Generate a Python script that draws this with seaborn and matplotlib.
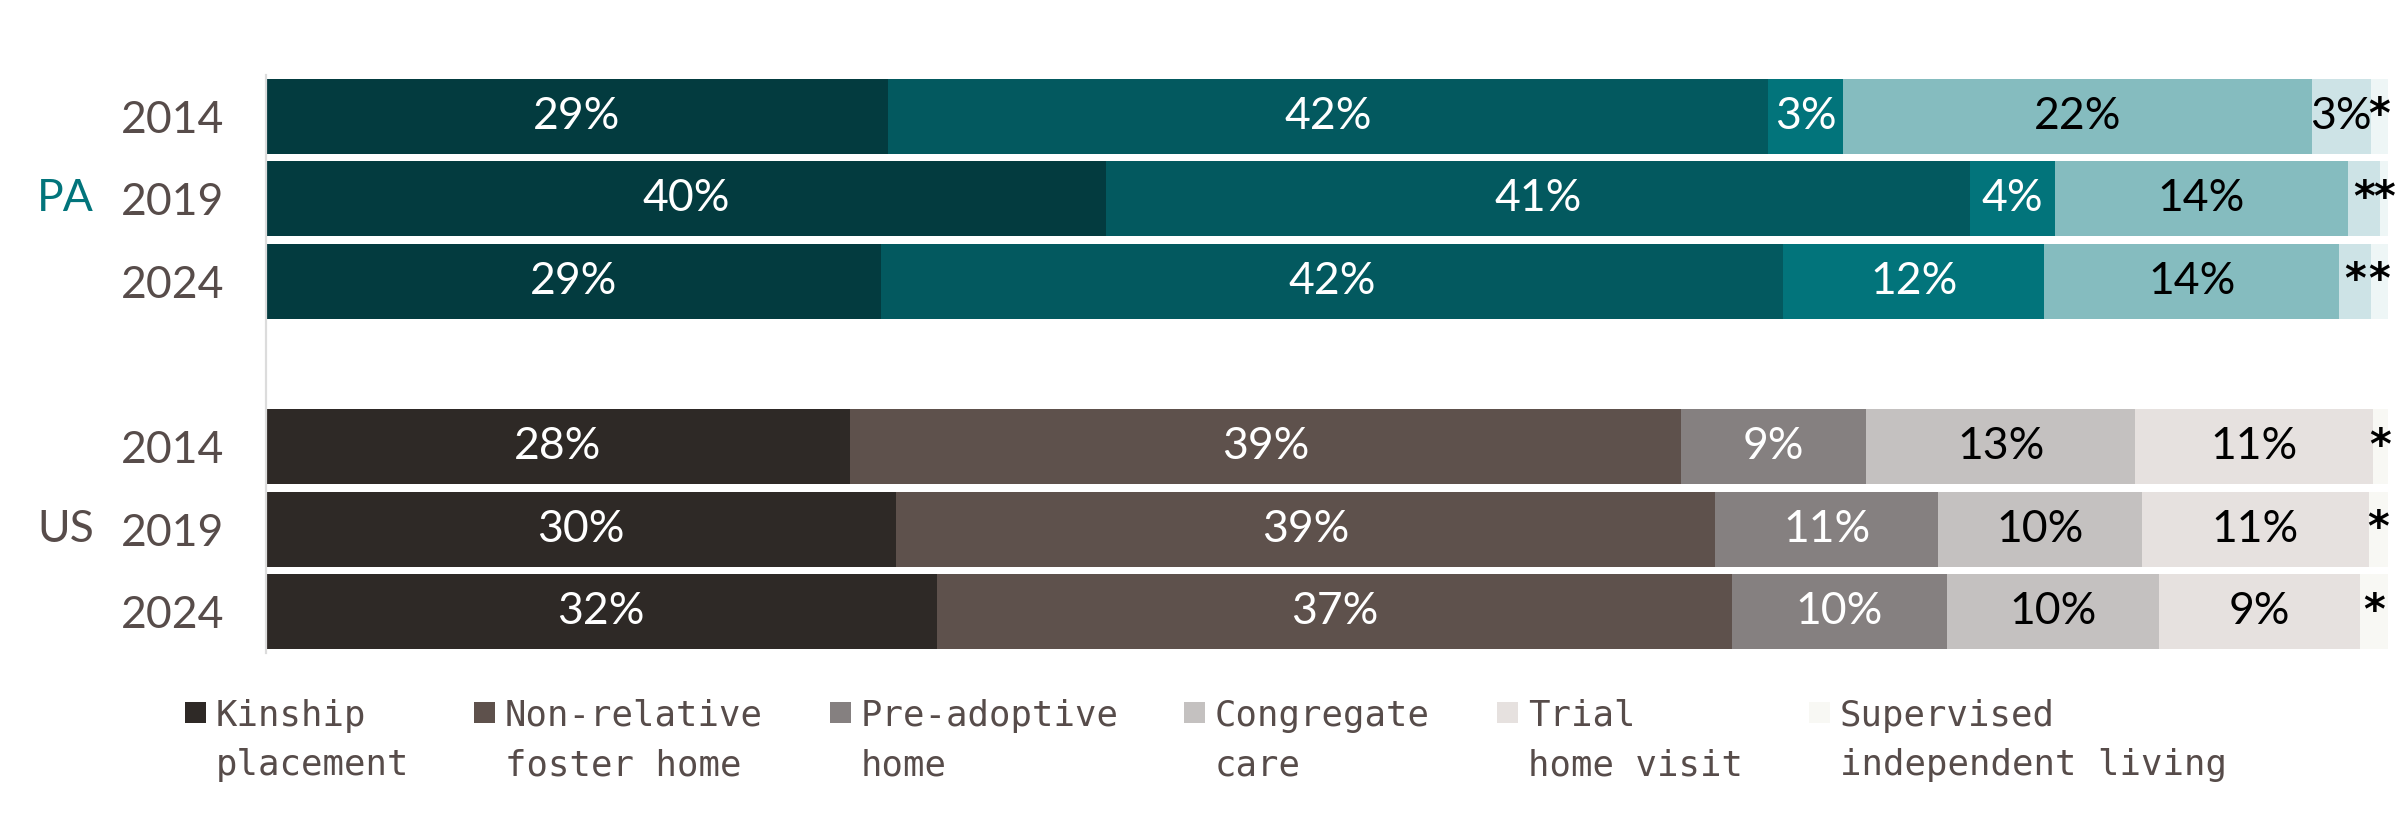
import matplotlib

matplotlib.use("Agg")
import matplotlib.pyplot as plt
import numpy as np
import pandas as pd
import seaborn as sns
from matplotlib.patches import Rectangle
from matplotlib.transforms import blended_transform_factory

# ---- data (percent of children in care) ----
CATEGORIES = [
    "Kinship\nplacement",
    "Non-relative\nfoster home",
    "Pre-adoptive\nhome",
    "Congregate\ncare",
    "Trial\nhome visit",
    "Supervised\nindependent living",
]
REGIONS = ["PA", "US"]
YEARS = ["2014", "2019", "2024"]

PA_2014 = [29.3, 41.5, 3.5, 22.1, 2.8, 0.8]
PA_2019 = [39.6, 40.7, 4.0, 13.8, 1.5, 0.4]
PA_2024 = [29.0, 42.5, 12.3, 13.9, 1.5, 0.8]
US_2014 = [27.5, 39.2, 8.7, 12.7, 11.2, 0.7]
US_2019 = [29.7, 38.6, 10.5, 9.6, 10.7, 0.9]
US_2024 = [31.6, 37.5, 10.1, 10.0, 9.5, 1.3]

PA_2014_LABELS = ["29%", "42%", "3%", "22%", "3%", "*"]
PA_2019_LABELS = ["40%", "41%", "4%", "14%", "*", "*"]
PA_2024_LABELS = ["29%", "42%", "12%", "14%", "*", "*"]
US_2014_LABELS = ["28%", "39%", "9%", "13%", "11%", "*"]
US_2019_LABELS = ["30%", "39%", "11%", "10%", "11%", "*"]
US_2024_LABELS = ["32%", "37%", "10%", "10%", "9%", "*"]

PA_COLORS = ["#033b3f", "#03595f", "#02747b", "#85bcbf", "#cde3e6", "#eef6f6"]
US_COLORS = ["#2e2926", "#5e514c", "#858080", "#c4c1c0", "#e6e1df", "#f8f8f4"]
TEXT_COLOR = "#574c4a"
PA_TEXT = "#02747b"

W, H = 2406, 825

sns.set_style("white")
plt.rcParams["font.family"] = ["Lato", "DejaVu Sans"]

rows = {
    "PA 2014": (PA_2014, PA_2014_LABELS),
    "PA 2019": (PA_2019, PA_2019_LABELS),
    "PA 2024": (PA_2024, PA_2024_LABELS),
    "US 2014": (US_2014, US_2014_LABELS),
    "US 2019": (US_2019, US_2019_LABELS),
    "US 2024": (US_2024, US_2024_LABELS),
}
row_order = ["PA 2014", "PA 2019", "PA 2024", "", "US 2014", "US 2019", "US 2024"]

records = []
for name, (vals, labels) in rows.items():
    ends = np.cumsum(vals)
    for j, (v, e, lab) in enumerate(zip(vals, ends, labels)):
        records.append({"row": name, "group": name[:2], "seg": j,
                        "value": v, "end": e, "label": lab})
df = pd.DataFrame(records)


def px(x, y):
    return x / W, 1 - y / H


fig = plt.figure(figsize=(W / 100, H / 100), dpi=100)
ax = fig.add_axes([266 / W, 1 - 653 / H, (2388 - 266) / W, (653 - 75) / H])

# stacked bars: draw cumulative ends from the last segment backwards
for j in reversed(range(len(CATEGORIES))):
    sub = df[df["seg"] == j]
    sns.barplot(
        data=sub, x="end", y="row", hue="group", order=row_order,
        hue_order=REGIONS, palette={"PA": PA_COLORS[j], "US": US_COLORS[j]},
        dodge=False, width=0.91, saturation=1, linewidth=0, errorbar=None,
        legend=False, orient="h", ax=ax,
    )

# segment labels
for _, r in df.iterrows():
    ypos = row_order.index(r["row"])
    xc = r["end"] - r["value"] / 2
    color = "white" if r["seg"] < 3 else "black"
    if r["label"] == "*":
        ax.text(xc, ypos, "*", ha="center", va="center", fontsize=30,
                fontweight="bold", color="black", family=["DejaVu Sans"])
    else:
        ax.text(xc, ypos, r["label"], ha="center", va="center",
                fontsize=32, color=color)

ax.set_xlim(0, 100)
ax.set_ylim(6.5, -0.5)
ax.set_xticks([])
ax.set_xlabel("")
ax.set_ylabel("")
ax.set_yticks([0, 1, 2, 4, 5, 6])
ax.set_yticklabels(YEARS + YEARS)
ax.tick_params(axis="y", length=0, pad=30, labelsize=32, labelcolor=TEXT_COLOR)
for side in ["top", "right", "bottom"]:
    ax.spines[side].set_visible(False)
ax.spines["left"].set_color("#dcdcdc")
ax.spines["left"].set_linewidth(1.6)

# region labels
trans = blended_transform_factory(fig.transFigure, ax.transData)
ax.text(37 / W, 1, "PA", transform=trans, ha="left", va="center",
        fontsize=32, color=PA_TEXT)
ax.text(37 / W, 5, "US", transform=trans, ha="left", va="center",
        fontsize=32, color=TEXT_COLOR)

# legend drawn by hand so the swatch sits on the first text line
legend_x = [216, 505, 861, 1215, 1528, 1840]
for cat, color, tx in zip(CATEGORIES, US_COLORS, legend_x):
    sx, sy = px(tx - 31, 723)
    fig.add_artist(Rectangle((sx, sy), 21 / W, 21 / H, transform=fig.transFigure,
                             facecolor=color, edgecolor="none"))
    for k, line in enumerate(cat.split("\n")):
        fx, fy = px(tx, 726 + 49 * k)
        fig.text(fx, fy, line, ha="left", va="baseline", fontsize=25.7,
                 color=TEXT_COLOR, family=["DejaVu Sans Mono"])

fig.savefig("out.png", dpi=100, facecolor="white")
